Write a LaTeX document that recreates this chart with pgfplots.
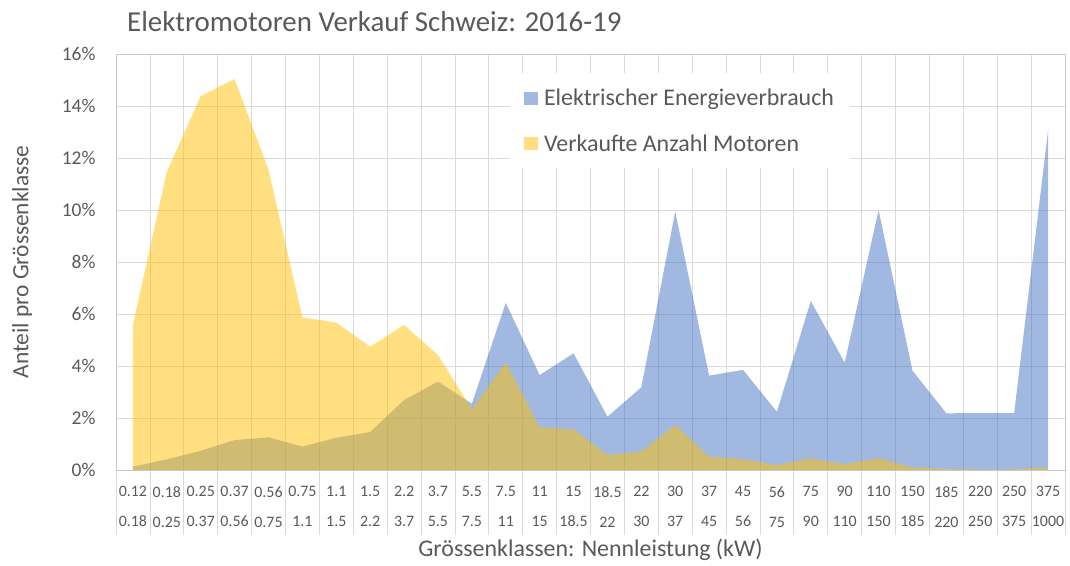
\documentclass[border=0pt]{standalone}
\usepackage{fontspec}
\setmainfont{Carlito}
\usepackage{pgfplots}
\pgfplotsset{compat=1.18}
\definecolor{egblue}{RGB}{68,114,196}
\definecolor{egyellow}{RGB}{255,192,0}
\definecolor{gridgray}{RGB}{217,217,217}
\definecolor{axgray}{RGB}{200,200,200}
\definecolor{txtgray}{RGB}{89,89,89}
\begin{document}
\begin{tikzpicture}
\path[use as bounding box] (0,0) rectangle (1070bp,566bp);
\node[anchor=west, text=txtgray, font=\fontsize{29}{34}\selectfont, inner sep=0pt] at (127bp,544bp) {Elektromotoren Verkauf Schweiz: 2016-19};
\begin{axis}[
  at={(116bp,96bp)}, anchor=south west,
  scale only axis, width=949bp, height=416bp,
  xmin=-0.5, xmax=27.5, ymin=0, ymax=16,
  xtick={0,...,27},
  xticklabels={{0.12\\0.18},{0.18\\0.25},{0.25\\0.37},{0.37\\0.56},{0.56\\0.75},{0.75\\1.1},{1.1\\1.5},{1.5\\2.2},{2.2\\3.7},{3.7\\5.5},{5.5\\7.5},{7.5\\11},{11\\15},{15\\18.5},{18.5\\22},{22\\30},{30\\37},{37\\45},{45\\56},{56\\75},{75\\90},{90\\110},{110\\150},{150\\185},{185\\220},{220\\250},{250\\375},{375\\1000}},
  minor xtick={-0.5,0.5,...,27.5},
  ytick={0,2,...,16},
  yticklabels={0\%,2\%,4\%,6\%,8\%,10\%,12\%,14\%,16\%},
  ymajorgrids, xminorgrids,
  major grid style={draw=gridgray, line width=0.75bp},
  minor grid style={draw=gridgray, line width=0.75bp},
  axis line style={draw=axgray, line width=0.75bp},
  tick align=outside, xtick pos=bottom, ytick pos=left,
  major tick length=0pt, minor tick length=65bp,
  every minor tick/.append style={draw=gridgray, line width=0.75bp},
  xticklabel style={align=center, font=\fontsize{16}{30}\selectfont, text=txtgray, yshift=-13bp},
  yticklabel style={font=\fontsize{19.5}{23}\selectfont, text=txtgray, xshift=-17bp},
  xlabel={Grössenklassen: Nennleistung (kW)},
  ylabel={Anteil pro Grössenklasse},
  xlabel style={font=\fontsize{24}{28}\selectfont, text=txtgray, at={(axis description cs:0.5,0)}, anchor=center, yshift=-80bp},
  ylabel style={font=\fontsize{23.5}{28}\selectfont, text=txtgray, at={(axis description cs:-0.099,0.5)}, anchor=center},
  legend style={at={(0.415,0.954)}, anchor=north west, draw=none, fill=white,
    font=\fontsize{24}{28}\selectfont, text=txtgray, inner xsep=14bp, inner ysep=14bp, row sep=23bp,
    nodes={inner xsep=2bp}},
  legend cell align=left,
  legend image code/.code={\fill[#1] (0bp,-6.5bp) rectangle (14bp,6.5bp); \path (18bp,0bp);},
]
\addplot[draw=none, fill=egblue, fill opacity=0.5] coordinates {
(0,0.13) (1,0.41) (2,0.74) (3,1.15) (4,1.26) (5,0.90) (6,1.24) (7,1.46) (8,2.69) (9,3.40)
(10,2.55) (11,6.43) (12,3.65) (13,4.49) (14,2.05) (15,3.18) (16,9.94) (17,3.63) (18,3.85) (19,2.24)
(20,6.50) (21,4.13) (22,10.0) (23,3.82) (24,2.18) (25,2.19) (26,2.19) (27,13.05)} \closedcycle;
\addlegendentry{Elektrischer Energieverbrauch}
\addplot[draw=none, fill=egyellow, fill opacity=0.5] coordinates {
(0,5.58) (1,11.47) (2,14.38) (3,15.04) (4,11.54) (5,5.87) (6,5.67) (7,4.74) (8,5.58) (9,4.42)
(10,2.33) (11,4.13) (12,1.64) (13,1.56) (14,0.58) (15,0.71) (16,1.73) (17,0.51) (18,0.42) (19,0.19)
(20,0.45) (21,0.23) (22,0.45) (23,0.10) (24,0.04) (25,0.02) (26,0.03) (27,0.10)} \closedcycle;
\addlegendentry{Verkaufte Anzahl Motoren}
\end{axis}
\end{tikzpicture}
\end{document}
